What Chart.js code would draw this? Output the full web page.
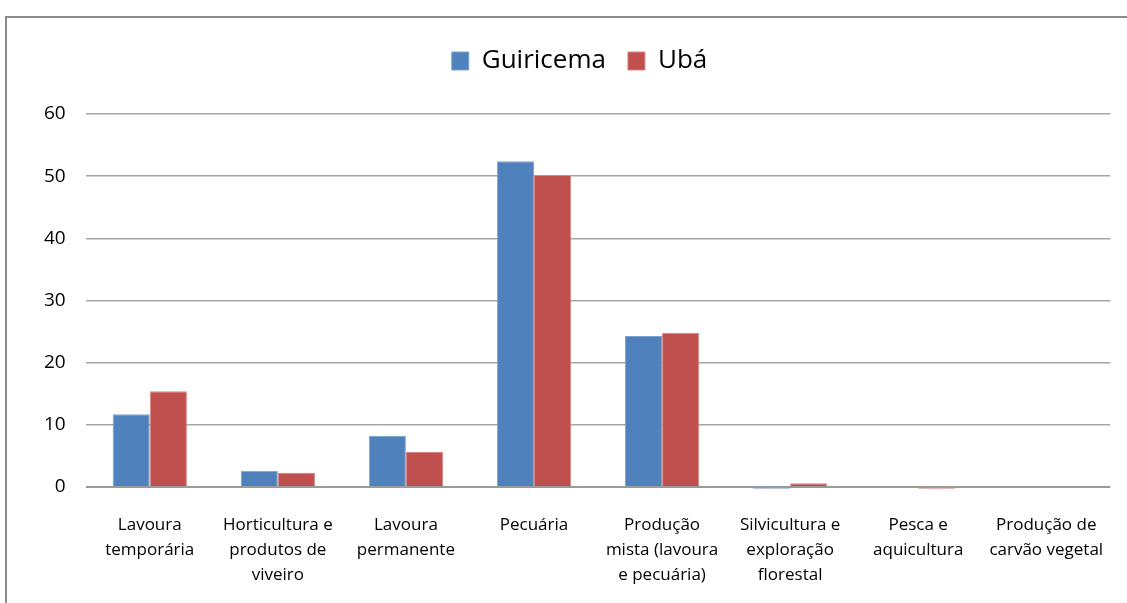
<!DOCTYPE html>
<html>
<head>
<meta charset="utf-8">
<script src="https://cdn.jsdelivr.net/npm/chart.js@4"></script>
<style>
  body { margin: 0; background: #fff; }
  #wrap { position: relative; width: 1127px; height: 603px; overflow: hidden; }
  #frame { position: absolute; left: 5px; top: 16px; width: 1140px; height: 620px; border: 2px solid #8c8c8c; box-sizing: border-box; }
  #chartBox { position: absolute; left: 0; top: 0; width: 1127px; height: 611px; }
</style>
</head>
<body>
<div id="wrap">
  <div id="frame"></div>
  <div id="chartBox"><canvas id="barChart"></canvas></div>
</div>
<script>
// categories (multi-line labels as in the original)
const categories = [
    ['Lavoura', 'temporária'],
    ['Horticultura e', 'produtos de', 'viveiro'],
    ['Lavoura', 'permanente'],
    ['Pecuária'],
    ['Produção', 'mista (lavoura', 'e pecuária)'],
    ['Silvicultura e', 'exploração', 'florestal'],
    ['Pesca e', 'aquicultura'],
    ['Produção de', 'carvão vegetal']
];
const guiricema = [11.7, 2.6, 8.2, 52.4, 24.3, -0.3, 0, 0];
const uba = [15.4, 2.3, 5.6, 50.2, 24.8, 0.6, -0.3, 0];
const yTicks = [0, 10, 20, 30, 40, 50, 60];

const fontFamily = "'Open Sans', 'DejaVu Sans', sans-serif";

// extra room under the legend, and nudge it a bit to the right
const legendSpace = {
    id: 'legendSpace',
    beforeInit(chart) {
        const fit = chart.legend.fit;
        chart.legend.fit = function () {
            fit.bind(chart.legend)();
            this.height += 30;
        };
    },
    afterLayout(chart) {
        chart.legend.left += 11;
        chart.legend.right += 11;
    }
};

document.addEventListener('DOMContentLoaded', function () {
    const ctx = document.getElementById('barChart').getContext('2d');

    new Chart(ctx, {
        type: 'bar',
        data: {
            labels: categories,
            datasets: [
                { label: 'Guiricema', data: guiricema, backgroundColor: '#4f81bd', borderColor: '#7fa3d0', borderWidth: 1 },
                { label: 'Ubá', data: uba, backgroundColor: '#c0504d', borderColor: '#d78683', borderWidth: 1 }
            ]
        },
        plugins: [legendSpace],
        options: {
            responsive: true,
            maintainAspectRatio: false,
            animation: false,
            layout: { padding: { left: 24, right: 14, top: 26, bottom: 0 } },
            datasets: { bar: { categoryPercentage: 0.58, barPercentage: 1.0 } },
            plugins: {
                legend: {
                    position: 'top',
                    labels: {
                        font: { family: fontFamily, size: 26 },
                        color: '#000',
                        boxWidth: 17,
                        boxHeight: 18,
                        padding: 22
                    }
                },
                tooltip: { enabled: false }
            },
            scales: {
                x: {
                    grid: { display: false, drawTicks: false },
                    border: { display: false },
                    ticks: {
                        font: { family: fontFamily, size: 17, lineHeight: 1.47 },
                        color: '#000',
                        maxRotation: 0,
                        autoSkip: false,
                        padding: 23
                    }
                },
                y: {
                    min: -0.5,
                    max: 60,
                    afterBuildTicks: function (axis) {
                        axis.ticks = yTicks.map(v => ({ value: v }));
                    },
                    grid: {
                        color: ctx => ctx.tick && ctx.tick.value === 0 ? '#9a9a9a' : '#a6a6a6',
                        lineWidth: ctx => ctx.tick && ctx.tick.value === 0 ? 2 : 1.5,
                        drawTicks: false
                    },
                    border: { display: false },
                    ticks: {
                        font: { family: fontFamily, size: 19 },
                        color: '#000',
                        padding: 20
                    }
                }
            }
        }
    });
});
</script>
</body>
</html>
